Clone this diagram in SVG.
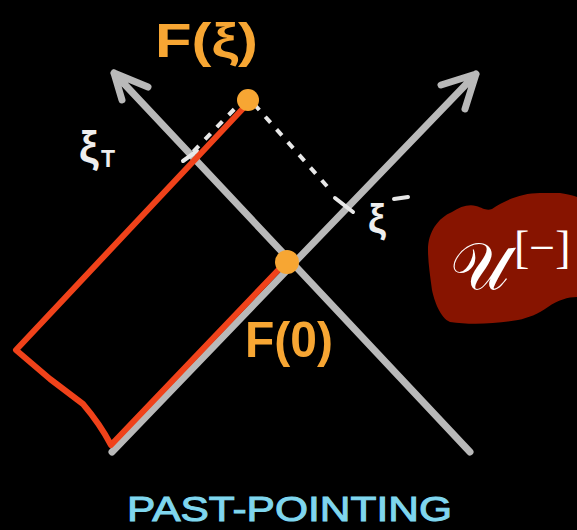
<svg xmlns="http://www.w3.org/2000/svg" width="577" height="530" viewBox="0 0 577 530">
  <style>
    .axis { fill: none; stroke: #b9b9b9; stroke-width: 7; stroke-linecap: round; stroke-linejoin: round; }
    .red { fill: none; stroke: #f0421a; stroke-width: 6; stroke-linecap: round; stroke-linejoin: round; }
    .dash { fill: none; stroke: #e8e8e8; stroke-width: 4; stroke-dasharray: 8 9; }
    .tick { fill: none; stroke: #e8e8e8; stroke-width: 4; stroke-linecap: round; }
    .dot { fill: #f7a633; }
    .orange { fill: #f7a633; font-family: "Liberation Sans", Arial, sans-serif; font-weight: bold; }
    .chalkw { fill: #eeeeee; font-family: "Liberation Sans", Arial, sans-serif; font-weight: bold; }
    .cyan { fill: #7fd6ee; stroke: #7fd6ee; stroke-width: 1; font-family: "Liberation Sans", Arial, sans-serif; }
    .math { fill: #ffffff; font-family: "DejaVu Serif", "Liberation Serif", serif; }
    .mathb { fill: #ffffff; font-family: "Liberation Serif", "DejaVu Serif", serif; }
  </style>
  <rect x="0" y="0" width="577" height="530" fill="#000000"/>

  <g id="connectors">
    <!-- future-pointing axis (bottom-left to top-right) -->
    <path class="axis" d="M112,452 L476,74 M441,85 L476,74 L465,109"/>
    <!-- past-pointing axis (top-left to bottom-right) -->
    <path class="axis" d="M114,73 L470,452 M148,87 L114,73 L122,100"/>
    <!-- dashed projections -->
    <path class="dash" d="M246,97 L192,153"/>
    <path class="tick" d="M183,161 L197,151"/>
    <path class="dash" d="M254,104 L333,193"/>
    <path class="tick" d="M335,198 L353,212"/>
    <!-- red path -->
    <path class="red" d="M250,101 L16,350 L50,379 L83,404 Q100,424 111,445 L284,264"/>
  </g>

  <g id="F_xi">
    <circle class="dot" cx="248" cy="100" r="11"/>
    <text class="orange" x="155" y="57" font-size="48" textLength="103" lengthAdjust="spacingAndGlyphs">F(ξ)</text>
  </g>

  <g id="F_0">
    <circle class="dot" cx="287" cy="262" r="12"/>
    <text class="orange" x="245" y="357" font-size="50" textLength="88" lengthAdjust="spacingAndGlyphs">F(0)</text>
  </g>

  <g id="xi_T">
    <text class="chalkw" x="79" y="162" font-size="44">ξ</text>
    <text class="chalkw" x="101" y="167" font-size="23">T</text>
  </g>

  <g id="xi_minus">
    <text class="chalkw" x="368" y="233" font-size="40">ξ</text>
    <path class="tick" d="M394,199 L408,197" stroke-width="3"/>
  </g>

  <g id="U_minus">
    <path fill="#871400" d="M428,250 C428,232 438,218 452,212 C460,207 468,204 476,206 C483,208 486,211 492,209 C505,200 522,193 540,193 L560,193 C568,194 574,196 577,197 L577,297 C568,297 558,300 548,307 C538,314 528,318 518,320 C495,324 470,325 450,322 C440,318 434,300 432,290 C430,275 428,262 428,250 Z"/>
    <text class="math" x="450" y="289" font-size="66">𝒰</text>
    <text class="mathb" x="514" y="263" font-size="46">[−]</text>
  </g>

  <g id="caption">
    <text class="cyan" x="127" y="521" font-size="35" textLength="325" lengthAdjust="spacingAndGlyphs">PAST-POINTING</text>
  </g>
</svg>
